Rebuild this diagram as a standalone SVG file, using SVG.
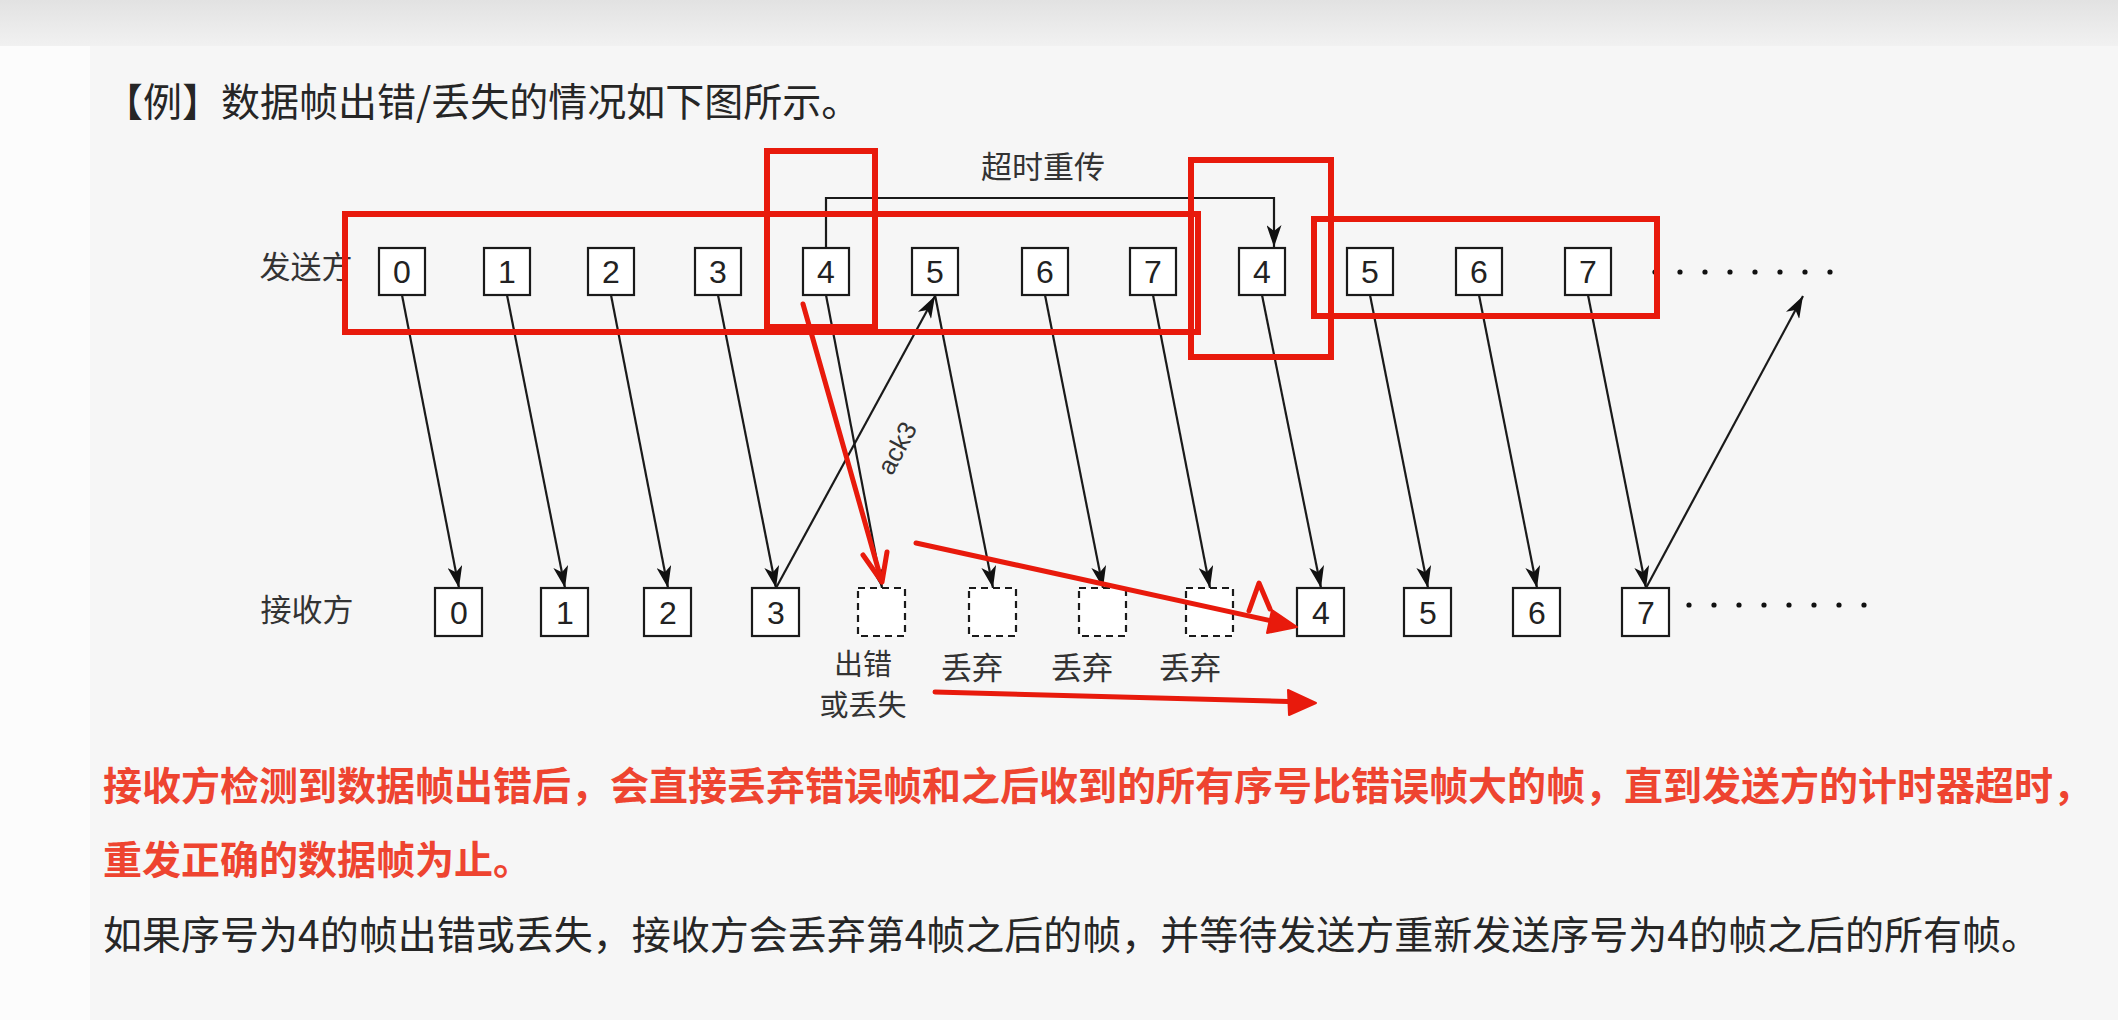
<svg xmlns="http://www.w3.org/2000/svg" width="2118" height="1020" viewBox="0 0 2118 1020">
  <defs>
    <linearGradient id="topband" x1="0" y1="0" x2="0" y2="1">
      <stop offset="0" stop-color="#e2e2e2"/>
      <stop offset="1" stop-color="#f1f1f1"/>
    </linearGradient>
    <marker id="ah" markerUnits="userSpaceOnUse" markerWidth="22" markerHeight="15" refX="22" refY="7.5" orient="auto">
      <path d="M0,0 L22,7.5 L0,15 L6,7.5 z" fill="#111"/>
    </marker>
    <style>
      .box{fill:#ffffff;stroke:#1a1a1a;stroke-width:2.2}
      .dbox{fill:#ffffff;stroke:#1a1a1a;stroke-width:2.2;stroke-dasharray:7 5}
      .num{font-family:"Liberation Sans",Arial,sans-serif;font-size:32px;fill:#222;text-anchor:middle}
      .lbl{font-family:"Noto Sans CJK SC","Noto Sans",sans-serif;font-size:31px;fill:#333;text-anchor:middle;dominant-baseline:central}
      .sm{font-size:29px}
      .con{fill:none;stroke:#1a1a1a;stroke-width:2.2;marker-end:url(#ah)}
      .body{font-family:"Noto Sans CJK SC","Noto Sans",sans-serif;font-size:39px;dominant-baseline:central}
      .red{fill:none;stroke:#e81a0c;stroke-width:6}
      .redl{fill:none;stroke:#e81a0c;stroke-width:5;stroke-linecap:round;stroke-linejoin:round}
      .dot{fill:#111}
    </style>
  </defs>

  <!-- background -->
  <rect x="0" y="0" width="2118" height="1020" fill="#fcfcfc"/>
  <rect x="90" y="45" width="2028" height="975" fill="#f6f6f6"/>
  <rect x="0" y="0" width="2118" height="46" fill="url(#topband)"/>

  <!-- texts -->
  <text class="body" x="104" y="99" fill="#262626">【例】数据帧出错/丢失的情况如下图所示。</text>
  <text class="body" x="103" y="783" fill="#ee4430" font-weight="bold">接收方检测到数据帧出错后，会直接丢弃错误帧和之后收到的所有序号比错误帧大的帧，直到发送方的计时器超时，</text>
  <text class="body" x="103" y="857" fill="#ee4430" font-weight="bold">重发正确的数据帧为止。</text>
  <text class="body" x="103" y="932" fill="#262626">如果序号为4的帧出错或丢失，接收方会丢弃第4帧之后的帧，并等待发送方重新发送序号为4的帧之后的所有帧。</text>

  <!-- row labels -->
  <text class="lbl" x="306" y="264">发送方</text>
  <text class="lbl" x="307" y="607">接收方</text>
  <text class="lbl" x="1043" y="164">超时重传</text>
  <text class="lbl sm" x="863" y="662">出错</text>
  <text class="lbl sm" x="863" y="703">或丢失</text>
  <text class="lbl" x="972" y="665">丢弃</text>
  <text class="lbl" x="1082" y="665">丢弃</text>
  <text class="lbl" x="1190" y="665">丢弃</text>

  <!-- connectors -->
  <g id="connectors">
    <line class="con" x1="402" y1="295" x2="459" y2="588"/>
    <line class="con" x1="507" y1="295" x2="565" y2="588"/>
    <line class="con" x1="611" y1="295" x2="668" y2="588"/>
    <line class="con" x1="718" y1="295" x2="776" y2="588"/>
    <line class="con" x1="826" y1="295" x2="882" y2="588"/>
    <line class="con" x1="935" y1="295" x2="993" y2="588"/>
    <line class="con" x1="1045" y1="295" x2="1103" y2="588"/>
    <line class="con" x1="1153" y1="295" x2="1210" y2="588"/>
    <line class="con" x1="1262" y1="295" x2="1321" y2="588"/>
    <line class="con" x1="1370" y1="295" x2="1428" y2="588"/>
    <line class="con" x1="1479" y1="295" x2="1537" y2="588"/>
    <line class="con" x1="1588" y1="295" x2="1646" y2="588"/>
    <line class="con" x1="776" y1="588" x2="935" y2="296"/>
    <line class="con" x1="1646" y1="588" x2="1803" y2="296"/>
    <path class="con" d="M826,248 V198 H1274 V247"/>
    <text x="897" y="448" font-family="Liberation Sans, Arial, sans-serif" font-size="26" fill="#333" text-anchor="middle" dominant-baseline="central" transform="rotate(-62 897 448)">ack3</text>
  </g>

  <!-- sender nodes -->
  <g id="s0"><rect class="box" x="379" y="248" width="46" height="47"/><text class="num" x="402" y="283">0</text></g>
  <g id="s1"><rect class="box" x="484" y="248" width="46" height="47"/><text class="num" x="507" y="283">1</text></g>
  <g id="s2"><rect class="box" x="588" y="248" width="46" height="47"/><text class="num" x="611" y="283">2</text></g>
  <g id="s3"><rect class="box" x="695" y="248" width="46" height="47"/><text class="num" x="718" y="283">3</text></g>
  <g id="s4"><rect class="box" x="803" y="248" width="46" height="47"/><text class="num" x="826" y="283">4</text></g>
  <g id="s5"><rect class="box" x="912" y="248" width="46" height="47"/><text class="num" x="935" y="283">5</text></g>
  <g id="s6"><rect class="box" x="1022" y="248" width="46" height="47"/><text class="num" x="1045" y="283">6</text></g>
  <g id="s7"><rect class="box" x="1130" y="248" width="46" height="47"/><text class="num" x="1153" y="283">7</text></g>
  <g id="s4b"><rect class="box" x="1239" y="248" width="46" height="47"/><text class="num" x="1262" y="283">4</text></g>
  <g id="s5b"><rect class="box" x="1347" y="248" width="46" height="47"/><text class="num" x="1370" y="283">5</text></g>
  <g id="s6b"><rect class="box" x="1456" y="248" width="46" height="47"/><text class="num" x="1479" y="283">6</text></g>
  <g id="s7b"><rect class="box" x="1565" y="248" width="46" height="47"/><text class="num" x="1588" y="283">7</text></g>
  <g id="sdots">
    <circle class="dot" cx="1655" cy="272" r="2.6"/><circle class="dot" cx="1680" cy="272" r="2.6"/>
    <circle class="dot" cx="1705" cy="272" r="2.6"/><circle class="dot" cx="1730" cy="272" r="2.6"/>
    <circle class="dot" cx="1755" cy="272" r="2.6"/><circle class="dot" cx="1780" cy="272" r="2.6"/>
    <circle class="dot" cx="1805" cy="272" r="2.6"/><circle class="dot" cx="1830" cy="272" r="2.6"/>
  </g>

  <!-- receiver nodes -->
  <g id="r0"><rect class="box" x="435" y="588" width="47" height="48"/><text class="num" x="459" y="624">0</text></g>
  <g id="r1"><rect class="box" x="541" y="588" width="47" height="48"/><text class="num" x="565" y="624">1</text></g>
  <g id="r2"><rect class="box" x="644" y="588" width="47" height="48"/><text class="num" x="668" y="624">2</text></g>
  <g id="r3"><rect class="box" x="752" y="588" width="47" height="48"/><text class="num" x="776" y="624">3</text></g>
  <g id="r4x"><rect class="dbox" x="858" y="588" width="47" height="48"/></g>
  <g id="r5x"><rect class="dbox" x="969" y="588" width="47" height="48"/></g>
  <g id="r6x"><rect class="dbox" x="1079" y="588" width="47" height="48"/></g>
  <g id="r7x"><rect class="dbox" x="1186" y="588" width="47" height="48"/></g>
  <g id="r4"><rect class="box" x="1297" y="588" width="47" height="48"/><text class="num" x="1321" y="624">4</text></g>
  <g id="r5"><rect class="box" x="1404" y="588" width="47" height="48"/><text class="num" x="1428" y="624">5</text></g>
  <g id="r6"><rect class="box" x="1513" y="588" width="47" height="48"/><text class="num" x="1537" y="624">6</text></g>
  <g id="r7"><rect class="box" x="1622" y="588" width="47" height="48"/><text class="num" x="1646" y="624">7</text></g>
  <g id="rdots">
    <circle class="dot" cx="1689" cy="605" r="2.6"/><circle class="dot" cx="1714" cy="605" r="2.6"/>
    <circle class="dot" cx="1739" cy="605" r="2.6"/><circle class="dot" cx="1764" cy="605" r="2.6"/>
    <circle class="dot" cx="1789" cy="605" r="2.6"/><circle class="dot" cx="1814" cy="605" r="2.6"/>
    <circle class="dot" cx="1839" cy="605" r="2.6"/><circle class="dot" cx="1864" cy="605" r="2.6"/>
  </g>

  <!-- red hand-drawn annotations -->
  <g id="annotations">
    <rect class="red" x="345" y="214" width="853" height="118"/>
    <rect class="red" x="767" y="151" width="108" height="176"/>
    <rect class="red" x="1191" y="160" width="140" height="197"/>
    <rect class="red" x="1314" y="219" width="343" height="97"/>
    <line class="redl" x1="803" y1="304" x2="881" y2="579"/>
    <polyline class="redl" points="863,555 882,582 887,552"/>
    <line class="redl" x1="916" y1="543" x2="1290" y2="625"/>
    <polygon points="1297,627 1272,610 1267,633" fill="#e81a0c" stroke="#e81a0c" stroke-width="2" stroke-linejoin="round"/>
    <polyline class="redl" points="1249,611 1259,583 1270,609" stroke-width="4"/>
    <line class="redl" x1="935" y1="692" x2="1306" y2="702"/>
    <polygon points="1316,703 1288,690 1289,715" fill="#e81a0c" stroke="#e81a0c" stroke-width="2" stroke-linejoin="round"/>
  </g>
</svg>
